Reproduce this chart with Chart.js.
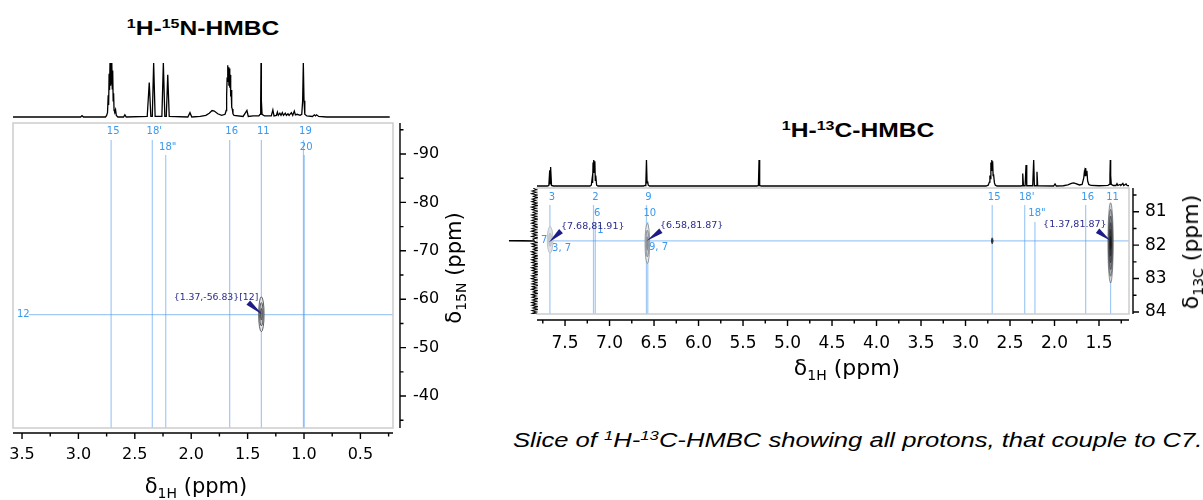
<!DOCTYPE html>
<html>
<head>
<meta charset="utf-8">
<script src="https://cdn.jsdelivr.net/npm/chart.js@4.4.1/dist/chart.umd.min.js"></script>
<style>
  html, body { margin: 0; padding: 0; width: 1203px; height: 500px; overflow: hidden; background: #fff; }
  canvas, .txt { position: absolute; }
  .title { font-family: "Liberation Sans", Arial, sans-serif; font-weight: bold; font-size: 20px; white-space: nowrap; line-height: 1; transform: translate(-50%, -50%) scaleX(1.23); }
  .title .sup { font-size: 13px; position: relative; top: -7px; }
  .axt { font-family: "DejaVu Sans", Verdana, sans-serif; font-size: 21px; white-space: nowrap; line-height: 1; transform: translate(-50%, -50%); }
  .axt .sub { font-size: 14px; position: relative; top: 5px; }
  .rot { transform: translate(-50%, -50%) rotate(-90deg); }
  .cap { font-family: "Liberation Sans", Arial, sans-serif; font-style: italic; font-size: 20px; white-space: nowrap; line-height: 1; transform-origin: left center; transform: translateY(-50%) scaleX(1.28); }
  .cap .sup { font-size: 13px; position: relative; top: -7px; }
</style>
</head>
<body>
<div class="txt title" style="left:203px;top:28px"><span class="sup">1</span>H-<span class="sup">15</span>N-HMBC</div>
<div class="txt title" style="left:858px;top:130px"><span class="sup">1</span>H-<span class="sup">13</span>C-HMBC</div>

<canvas id="nMain" width="480" height="382" style="left:0;top:118px"></canvas>
<canvas id="nSpec" width="380" height="64" style="left:13px;top:55px"></canvas>
<canvas id="cMain" width="703" height="200" style="left:500px;top:184px"></canvas>
<canvas id="cSpec" width="592" height="33" style="left:537px;top:155px"></canvas>
<canvas id="cProj" width="33" height="126" style="left:505px;top:188px"></canvas>

<div class="txt axt" style="left:196px;top:486px">δ<span class="sub">1H</span> (ppm)</div>
<div class="txt axt rot" style="left:454px;top:268px">δ<span class="sub">15N</span> (ppm)</div>
<div class="txt axt" style="left:847px;top:368px;font-size:22px">δ<span class="sub">1H</span> (ppm)</div>
<div class="txt axt rot" style="left:1191px;top:252px;font-size:22px">δ<span class="sub">13C</span> (ppm)</div>
<div class="txt cap" style="left:513px;top:440px">Slice of <span class="sup">1</span>H-<span class="sup">13</span>C-HMBC showing all protons, that couple to C7.</div>

<script>
// ---------- tick labels ----------
const nXTicks = [3.5, 3.0, 2.5, 2.0, 1.5, 1.0, 0.5]
const nYTicks = [-90, -80, -70, -60, -50, -40]
const cXTicks = [7.5, 7.0, 6.5, 6.0, 5.5, 5.0, 4.5, 4.0, 3.5, 3.0, 2.5, 2.0, 1.5]
const cYTicks = [81, 82, 83, 84]

// ---------- 1H projection over the 15N HMBC  [ppm, intensity] ----------
const nSpectrum = [
  [3.58, 0], [2.98, 0], [2.968, 2.5], [2.955, 0],
  [2.76, 0], [2.75, 3], [2.742, 8], [2.736, 40], [2.732, 22], [2.728, 80], [2.724, 50], [2.72, 100], [2.716, 58],
  [2.712, 96], [2.708, 62], [2.704, 100], [2.70, 52], [2.696, 86], [2.692, 30], [2.688, 44], [2.684, 12],
  [2.678, 10], [2.671, 14], [2.664, 3], [2.65, 0],
  [2.60, 0], [2.588, 4], [2.576, 0],
  [2.39, 1], [2.372, 64], [2.358, 1], [2.345, 1], [2.333, 100], [2.32, 1],
  [2.26, 1], [2.247, 100], [2.234, 1], [2.221, 1], [2.208, 78], [2.195, 1],
  [2.03, 0], [2.011, 8], [1.995, 0],
  [1.92, 1], [1.87, 3], [1.84, 7], [1.815, 12], [1.795, 11], [1.765, 6], [1.73, 3], [1.70, 5],
  [1.69, 12], [1.686, 40], [1.682, 70], [1.678, 96], [1.674, 68], [1.670, 92], [1.666, 58], [1.662, 90],
  [1.658, 54], [1.654, 78], [1.650, 38], [1.646, 50], [1.641, 18], [1.636, 15], [1.63, 6], [1.62, 3],
  [1.54, 1], [1.506, 12], [1.494, 1], [1.45, 2],
  [1.40, 2], [1.39, 5], [1.384, 30], [1.381, 100], [1.378, 30], [1.372, 5], [1.35, 2],
  [1.29, 2], [1.276, 13], [1.266, 2], [1.245, 3], [1.236, 9], [1.228, 3], [1.214, 7], [1.204, 3],
  [1.192, 8], [1.182, 3], [1.166, 7], [1.156, 3], [1.142, 6], [1.132, 3], [1.112, 8], [1.10, 3],
  [1.086, 11], [1.076, 4], [1.06, 5], [1.035, 3],
  [1.02, 5], [1.012, 30], [1.006, 100], [1.000, 30], [0.993, 5], [0.975, 2],
  [0.925, 1], [0.908, 4], [0.898, 2], [0.889, 4], [0.87, 1], [0.80, 0], [0.24, 0]
]

// ---------- 1H projection over the 13C HMBC  [ppm, intensity] ----------
const cSpectrum = [
  [7.82, 0], [7.70, 0], [7.682, 2], [7.672, 60], [7.667, 8], [7.662, 73], [7.652, 2], [7.63, 0],
  [7.22, 0], [7.205, 3], [7.195, 30], [7.19, 12], [7.185, 90], [7.18, 50], [7.175, 100], [7.17, 55],
  [7.165, 95], [7.16, 22], [7.155, 40], [7.145, 3], [7.13, 0],
  [6.62, 0], [6.60, 2], [6.592, 10], [6.585, 100], [6.578, 12], [6.572, 18], [6.565, 3], [6.55, 0],
  [5.345, 0], [5.327, 2], [5.32, 100], [5.313, 2], [5.295, 0],
  [2.77, 0], [2.745, 3], [2.732, 15], [2.726, 40], [2.72, 28], [2.715, 90], [2.71, 60], [2.705, 100],
  [2.70, 70], [2.695, 95], [2.69, 40], [2.685, 45], [2.675, 12], [2.665, 3], [2.645, 0],
  [2.38, 0], [2.365, 1], [2.357, 48], [2.349, 1], [2.33, 1], [2.32, 81], [2.312, 1],
  [2.245, 1], [2.234, 100], [2.226, 1], [2.206, 1], [2.197, 55], [2.189, 1],
  [2.01, 0], [1.994, 8], [1.98, 0],
  [1.90, 1], [1.85, 4], [1.81, 10], [1.785, 12], [1.76, 9], [1.72, 4],
  [1.69, 6], [1.672, 30], [1.664, 55], [1.657, 40], [1.65, 69], [1.643, 42], [1.636, 58], [1.628, 20], [1.615, 6], [1.59, 2],
  [1.50, 1], [1.40, 2], [1.385, 6], [1.377, 40], [1.373, 100], [1.369, 40], [1.362, 6], [1.34, 2],
  [1.31, 2], [1.298, 9], [1.288, 2], [1.265, 6], [1.255, 2], [1.232, 10], [1.222, 2], [1.196, 8], [1.185, 2], [1.163, 1]
]

// ---------- 13C (F1) projection of the C7 slice  [intensity, ppm] ----------
const cProjection = [
  [1.2, 80.30], [-2.1, 80.34], [2.4, 80.38], [-1.5, 80.42], [2.8, 80.46], [-2.6, 80.50], [1.0, 80.54],
  [-2.9, 80.58], [2.2, 80.62], [-1.2, 80.66], [2.6, 80.70], [-2.4, 80.74], [1.8, 80.78], [-2.8, 80.82],
  [2.9, 80.86], [-1.6, 80.90], [2.3, 80.94], [-2.7, 80.98], [1.4, 81.02], [-2.2, 81.06], [2.7, 81.10],
  [-1.9, 81.14], [2.1, 81.18], [-2.9, 81.22], [2.5, 81.26], [-1.4, 81.30], [2.8, 81.34], [-2.3, 81.38],
  [1.6, 81.42], [-2.8, 81.46], [2.4, 81.50], [-1.7, 81.54], [2.9, 81.58], [-2.5, 81.62], [1.9, 81.66],
  [-2.1, 81.70], [2.6, 81.74], [-2.9, 81.78], [1.5, 81.82], [0.5, 81.855], [25, 81.865], [25, 81.875],
  [0.8, 81.885], [-2.4, 81.92], [2.7, 81.96], [-1.8, 82.00], [2.2, 82.04], [-2.7, 82.08], [1.3, 82.12],
  [-2.5, 82.16], [2.9, 82.20], [-1.4, 82.24], [2.4, 82.28], [-2.8, 82.32], [2.0, 82.36], [-2.2, 82.40],
  [2.7, 82.44], [-1.6, 82.48], [2.5, 82.52], [-2.9, 82.56], [1.7, 82.60], [-2.4, 82.64], [2.8, 82.68],
  [-1.9, 82.72], [2.3, 82.76], [-2.6, 82.80], [1.5, 82.84], [-2.8, 82.88], [2.6, 82.92], [-1.3, 82.96],
  [2.9, 83.00], [-2.5, 83.04], [1.8, 83.08], [-2.1, 83.12], [2.4, 83.16], [-2.9, 83.20], [2.2, 83.24],
  [-1.7, 83.28], [2.8, 83.32], [-2.4, 83.36], [1.4, 83.40], [-2.7, 83.44], [2.6, 83.48], [-1.5, 83.52],
  [2.3, 83.56], [-2.9, 83.60], [1.9, 83.64], [-2.2, 83.68], [2.7, 83.72], [-1.8, 83.76], [2.5, 83.80],
  [-2.6, 83.84], [1.6, 83.88], [-2.8, 83.92], [2.4, 83.96], [-1.9, 84.00], [2.1, 84.04], [-2.3, 84.06]
]

// ---------- assignment lines ----------
const nLabels = ['15', "18'", '18"', '16', '11', '19', '20']
const nShifts = [2.71, 2.345, 2.226, 1.659, 1.378, 1.005, 0.998]
const nRowLabel = '12'
const nRowShift = -56.83

const cLabels = ['3', '2', '6', '9', '10', '15', "18'", '18"', '16', '11']
const cShifts = [7.67, 7.18, 7.16, 6.585, 6.57, 2.70, 2.335, 2.22, 1.65, 1.37]
const cRowLabel = '7'
const cRowShift = 81.87

// ---------- cross peaks: [1H ppm, X ppm, half width 1H, half width X] ----------
const nPeaks = [[1.378, -56.9, 0.024, 3.6]]
const cPeaks = [[7.668, 81.84, 0.032, 0.40], [6.575, 81.95, 0.026, 0.60], [2.70, 81.87, 0.008, 0.09], [1.37, 81.93, 0.030, 1.20]]

// ---------- peak annotations ----------
const nNotes = ['{1.37,-56.83}[12]']
const nNotePos = [[1.37, -56.83]]
const cNotes = ['{7.68,81.91}', '{6.58,81.87}', '{1.37,81.87}']
const cNotePos = [[7.68, 81.91], [6.58, 81.87], [1.37, 81.87]]
const cPeakTags = ['3, 7', '9, 7', '1']
const cPeakTagPos = [[7.68, 81.91], [6.58, 81.87], [7.16, 81.87]]

// ---------- layout / styling ----------
const BLUE_LINE = 'rgba(70, 150, 235, 0.5)'
const BLUE_TEXT = '#3a98ee'
const NAVY = '#1c1c86'
const FONT = '"DejaVu Sans", Verdana, sans-serif'

const nView = { xMin: 0.211, xMax: 3.58, yMin: -96.4, yMax: -33.4 }
const cView = { xMin: 1.163, xMax: 7.815, yMin: 80.29, yMax: 84.06 }

const nLayout = {
  rows: [0, 0, 1, 0, 0, 0, 1], rowTextY: [8, 24], rowLineTop: [-92.9, -89.8],
  rowLineStart: 3.44, xAxisGap: 5, yAxisGap: 7,
  notes: [{ dx: -4, dy: -17, align: 'right', tail: [-14, -12] }],
  fonts: { label: 10, note: 9.3 },
  contour: [{ fills: ['#e4e8ee', '#c3c8d0', '#8c939c'], stroke: '#3c3c3c' }]
}
const cLayout = {
  rows: [0, 0, 1, 0, 1, 0, 0, 1, 0, 0], rowTextY: [9, 25], rowLineTop: [80.8, 81.31],
  rowLineStart: 7.70, xAxisGap: 6, yAxisGap: 4,
  notes: [
    { dx: 12, dy: -16, align: 'left', tail: [12, -11] },
    { dx: 13, dy: -15, align: 'left', tail: [14, -10] },
    { dx: -4, dy: -16, align: 'right', tail: [-13, -10] }
  ],
  tags: [[3, 6], [2, 7], [2, -10]],
  fonts: { label: 10, note: 9.5 },
  contour: [
    { fills: ['#dfe3e8', '#c8cdd4'], stroke: '#b3b9c1' },
    { fills: ['#e7e9ed', '#c2c7ce', '#8f959d'], stroke: '#80868e' },
    { fills: ['#5a6068', '#202328'], stroke: '#333' },
    { fills: ['#d2d6dc', '#a9afb8', '#7c838c', '#565c64', '#34383e', '#15171a'], stroke: 'rgba(30,30,30,0.55)' }
  ]
}

function tickList(majors, step, lo, hi) {
  const out = []
  const first = Math.min(...majors) - step * 6
  const last = Math.max(...majors) + step * 6
  for (let v = first; v <= last + 1e-9; v += step) {
    const r = Math.round(v * 1000) / 1000
    if (r >= lo && r <= hi) out.push({ value: r })
  }
  return out
}
const isMajor = (list, v) => list.some(m => Math.abs(m - v) < 1e-6)

function lineSet(points, color, width) {
  return { data: points, showLine: true, borderColor: color, borderWidth: width, pointRadius: 0, fill: false, tension: 0 }
}

// draws the frame, contours, labels, arrows and the detached axes
function decorPlugin(cfg) {
  return {
    id: 'decor',
    afterDatasetsDraw(chart) {
      const { ctx, chartArea: a, scales: { x, y } } = chart
      ctx.save()

      // contours
      cfg.peaks.forEach((p, i) => {
        const st = cfg.layout.contour[i]
        const cx = x.getPixelForValue(p[0])
        const cy = y.getPixelForValue(p[1])
        const rx = Math.abs(x.getPixelForValue(p[0] + p[2]) - cx)
        const ry = Math.abs(y.getPixelForValue(p[1] + p[3]) - cy)
        st.fills.forEach((f, k) => {
          const s = 1 - k / st.fills.length
          ctx.beginPath()
          ctx.ellipse(cx, cy, Math.max(rx * s, 0.7), Math.max(ry * s, 1), 0, 0, Math.PI * 2)
          ctx.fillStyle = f
          ctx.fill()
          ctx.lineWidth = 0.8
          ctx.strokeStyle = st.stroke
          ctx.stroke()
        })
      })

      // assignment labels on top
      ctx.fillStyle = BLUE_TEXT
      ctx.font = cfg.layout.fonts.label + 'px ' + FONT
      ctx.textAlign = 'center'
      ctx.textBaseline = 'middle'
      cfg.labels.forEach((t, i) => {
        const px = x.getPixelForValue(cfg.shifts[i]) + 2
        ctx.fillText(t, px, a.top + cfg.layout.rowTextY[cfg.layout.rows[i]])
      })
      ctx.textAlign = 'left'
      ctx.fillText(cfg.rowLabel, a.left + 4, y.getPixelForValue(cfg.rowShift))

      // small peak tags
      ;(cfg.tags || []).forEach((t, i) => {
        const off = cfg.layout.tags[i]
        ctx.fillText(t, x.getPixelForValue(cfg.tagPos[i][0]) + off[0], y.getPixelForValue(cfg.tagPos[i][1]) + off[1])
      })

      // annotations with wedge arrows
      ctx.font = cfg.layout.fonts.note + 'px ' + FONT
      cfg.notes.forEach((t, i) => {
        const n = cfg.layout.notes[i]
        const tx = x.getPixelForValue(cfg.notePos[i][0])
        const ty = y.getPixelForValue(cfg.notePos[i][1])
        const bx = tx + n.tail[0], by = ty + n.tail[1]
        const len = Math.hypot(tx - bx, ty - by)
        const nx = -(ty - by) / len * 2.8, ny = (tx - bx) / len * 2.8
        ctx.fillStyle = NAVY
        ctx.beginPath()
        ctx.moveTo(bx + nx, by + ny)
        ctx.lineTo(bx - nx, by - ny)
        ctx.lineTo(tx, ty)
        ctx.closePath()
        ctx.fill()
        ctx.fillStyle = '#2a2a8e'
        ctx.textAlign = n.align
        ctx.fillText(t, tx + n.dx, ty + n.dy)
      })

      // frame
      ctx.strokeStyle = '#cdcdcd'
      ctx.lineWidth = 1.5
      ctx.strokeRect(a.left, a.top, a.right - a.left, a.bottom - a.top)
      ctx.restore()
    },
    afterDraw(chart) {
      const { ctx, chartArea: a, scales: { x, y } } = chart
      ctx.save()
      ctx.strokeStyle = '#000'
      ctx.lineWidth = 1.4
      const y0 = a.bottom + cfg.layout.xAxisGap
      const x0 = a.right + cfg.layout.yAxisGap
      ctx.beginPath()
      ctx.moveTo(a.left, y0); ctx.lineTo(a.right, y0)
      ctx.moveTo(x0, a.top); ctx.lineTo(x0, a.bottom)
      x.ticks.forEach(t => {
        const px = x.getPixelForValue(t.value)
        ctx.moveTo(px, y0); ctx.lineTo(px, y0 + (isMajor(cfg.xMajor, t.value) ? 6 : 3.5))
      })
      y.ticks.forEach(t => {
        const py = y.getPixelForValue(t.value)
        ctx.moveTo(x0, py); ctx.lineTo(x0 + (isMajor(cfg.yMajor, t.value) ? 6 : 3.5), py)
      })
      ctx.stroke()
      ctx.restore()
    }
  }
}

function mainChart(id, view, opts) {
  const lay = opts.layout
  const datasets = opts.shifts.map((s, i) =>
    lineSet([{ x: s, y: lay.rowLineTop[lay.rows[i]] }, { x: s, y: view.yMax }], BLUE_LINE, 1.2))
  datasets.push(lineSet([{ x: lay.rowLineStart, y: opts.rowShift }, { x: view.xMin, y: opts.rowShift }], BLUE_LINE, 1.2))

  return new Chart(document.getElementById(id), {
    type: 'scatter',
    data: { datasets },
    options: {
      responsive: false,
      animation: false,
      layout: { padding: opts.padding },
      plugins: { legend: { display: false }, tooltip: { enabled: false } },
      scales: {
        x: {
          type: 'linear', reverse: true, min: view.xMin, max: view.xMax,
          grid: { display: false, drawTicks: false }, border: { display: false },
          afterBuildTicks: s => { s.ticks = tickList(opts.xMajor, opts.xStep, view.xMin, view.xMax) },
          afterFit: s => { s.height = opts.xHeight; s.paddingLeft = 0; s.paddingRight = 0 },
          ticks: {
            autoSkip: false, maxRotation: 0, padding: opts.xPad, color: '#000',
            font: { family: FONT, size: opts.tickSize },
            callback: v => isMajor(opts.xMajor, v) ? v.toFixed(1) : ''
          }
        },
        y: {
          type: 'linear', position: 'right', reverse: true, min: view.yMin, max: view.yMax,
          grid: { display: false, drawTicks: false }, border: { display: false },
          afterBuildTicks: s => { s.ticks = tickList(opts.yMajor, opts.yStep, view.yMin, view.yMax) },
          afterFit: s => { s.width = opts.yWidth; s.paddingTop = 0; s.paddingBottom = 0 },
          ticks: {
            autoSkip: false, padding: opts.yPad, color: '#000',
            font: { family: FONT, size: opts.tickSize },
            callback: v => isMajor(opts.yMajor, v) ? String(Math.round(v)) : ''
          }
        }
      }
    },
    plugins: [decorPlugin(opts)]
  })
}

function traceChart(id, points, xs, ys, width) {
  return new Chart(document.getElementById(id), {
    type: 'scatter',
    data: { datasets: [lineSet(points.map(p => ({ x: p[0], y: p[1] })), '#000', width)] },
    options: {
      responsive: false,
      animation: false,
      layout: { padding: 0 },
      plugins: { legend: { display: false }, tooltip: { enabled: false } },
      scales: {
        x: Object.assign({ type: 'linear', display: false }, xs),
        y: Object.assign({ type: 'linear', display: false }, ys)
      }
    }
  })
}

// 15N panel
mainChart('nMain', nView, {
  layout: nLayout, shifts: nShifts, labels: nLabels, rowLabel: nRowLabel, rowShift: nRowShift,
  peaks: nPeaks, notes: nNotes, notePos: nNotePos,
  xMajor: nXTicks, yMajor: nYTicks, xStep: 0.25, yStep: 5,
  padding: { left: 13, top: 5, right: 0, bottom: 0 },
  xHeight: 72, yWidth: 87, xPad: 17, yPad: 20, tickSize: 16
})
traceChart('nSpec', nSpectrum,
  { reverse: true, min: nView.xMin, max: nView.xMax },
  { min: -3.7, max: 114.8 }, 1.3)

// 13C panel
mainChart('cMain', cView, {
  layout: cLayout, shifts: cShifts, labels: cLabels, rowLabel: cRowLabel, rowShift: cRowShift,
  peaks: cPeaks, notes: cNotes, notePos: cNotePos, tags: cPeakTags, tagPos: cPeakTagPos,
  xMajor: cXTicks, yMajor: cYTicks, xStep: 0.25, yStep: 0.5,
  padding: { left: 37, top: 4, right: 0, bottom: 0 },
  xHeight: 70, yWidth: 74, xPad: 19, yPad: 16, tickSize: 17
})
traceChart('cSpec', cSpectrum,
  { reverse: true, min: cView.xMin, max: cView.xMax },
  { min: -7.7, max: 119.2 }, 1.3)
traceChart('cProj', cProjection,
  { reverse: true, min: -3.5, max: 29.5 },
  { reverse: true, min: cView.yMin, max: cView.yMax }, 1.1)
</script>
</body>
</html>
